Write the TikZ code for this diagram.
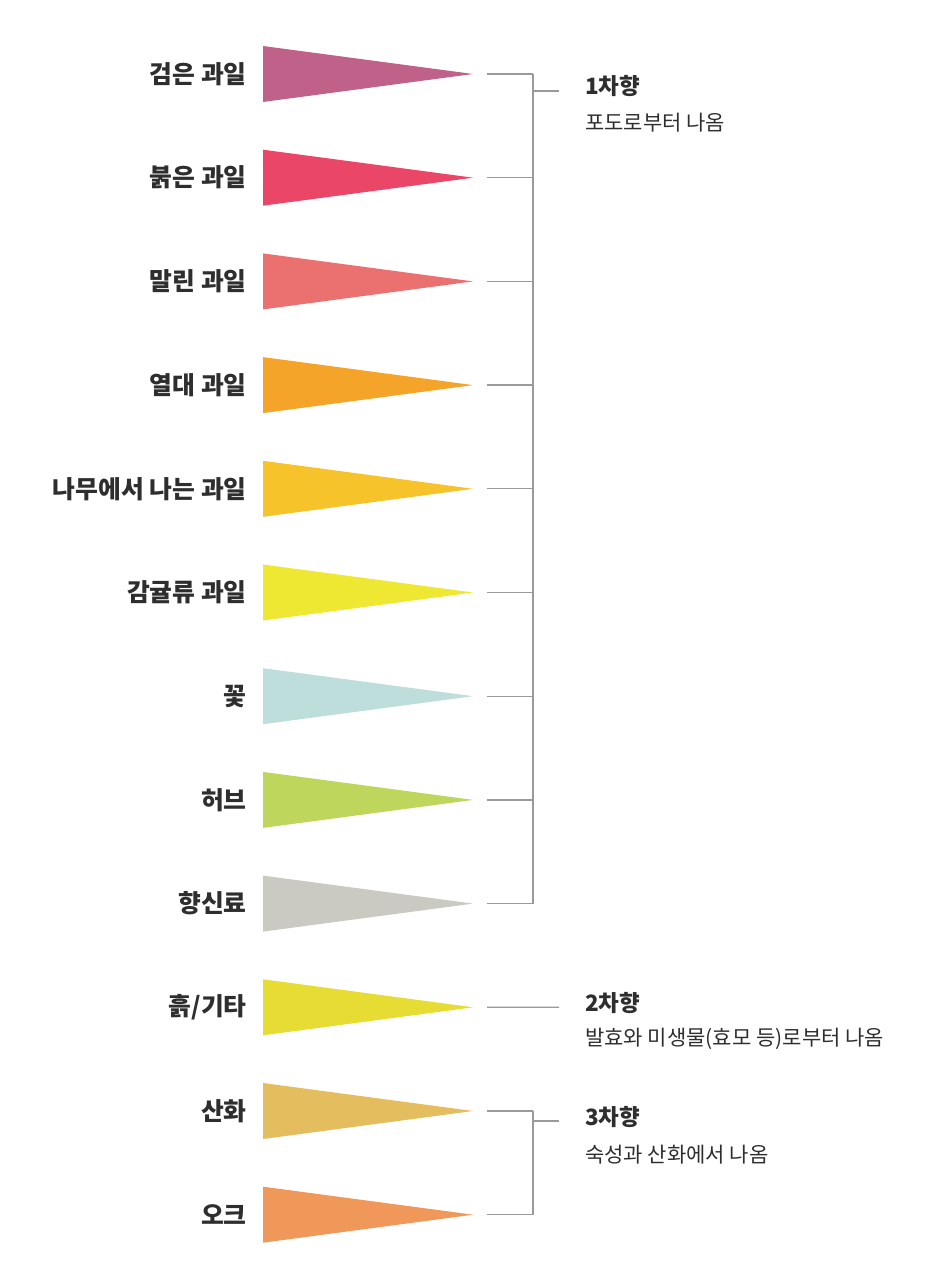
\documentclass[tikz,border=0pt]{standalone}
\usepackage{fontspec}
\newfontfamily\kr{Noto Sans CJK KR}
\definecolor{c1}{HTML}{C0618A}
\definecolor{c2}{HTML}{EA4768}
\definecolor{c3}{HTML}{EA716F}
\definecolor{c4}{HTML}{F5A42A}
\definecolor{c5}{HTML}{F6C42A}
\definecolor{c6}{HTML}{EFE832}
\definecolor{c7}{HTML}{BDDEDB}
\definecolor{c8}{HTML}{BED65C}
\definecolor{c9}{HTML}{CACAC2}
\definecolor{c10}{HTML}{E6DC34}
\definecolor{c11}{HTML}{E4BE5E}
\definecolor{c12}{HTML}{EF985A}
\definecolor{txt}{HTML}{2E2E2E}
\definecolor{ln}{HTML}{9A9A9A}
\tikzset{
  lbl/.style={anchor=east, inner sep=0pt, font=\kr\bfseries\fontsize{24.8}{28}\selectfont, text=txt},
  head/.style={anchor=west, inner sep=0pt, font=\kr\bfseries\fontsize{22.5}{26}\selectfont, text=txt},
  sub/.style={anchor=west, inner sep=0pt, font=\kr\fontsize{21}{24}\selectfont, text=txt},
  conn/.style={draw=ln, line width=1.3pt},
}
\begin{document}
\begin{tikzpicture}[x=1pt,y=-1pt]
\useasboundingbox (0,0) rectangle (938,1268);
\fill[white] (0,0) rectangle (938,1268);
\foreach \i/\lab in {1/{검은 과일},2/{붉은 과일},3/{말린 과일},4/{열대 과일},5/{나무에서 나는 과일},6/{감귤류 과일},7/{꽃},8/{허브},9/{향신료},10/{흙/기타},11/{산화},12/{오크}}{
  \pgfmathsetmacro{\yy}{74+(\i-1)*103.7}
  \fill[c\i] (263,\yy-28) -- (473,\yy) -- (263,\yy+28) -- cycle;
  \node[lbl] (l\i) at (247,\yy) {\lab};
  \coordinate (s\i) at (487,\yy);
  \coordinate (j\i) at (533,\yy);
}
% primary bracket
\foreach \i in {1,...,9}{ \draw[conn] (s\i) -- (j\i); }
\draw[conn] (j1) -- (j9);
\coordinate (b1) at (533,91);
\coordinate (e1) at (559,91);
\draw[conn] (b1) -- (e1);
\node[head] (h1) at (585,86) {1차향};
\node[sub] (d1) at (585,123) {포도로부터 나옴};
% secondary
\coordinate (e2) at (559,1007.3);
\draw[conn] (s10) -- (e2);
\node[head] (h2) at (585,1003) {2차향};
\node[sub] (d2) at (585,1039) {발효와 미생물(효모 등)로부터 나옴};
% tertiary
\draw[conn] (s11) -- (j11);
\draw[conn] (s12) -- (j12);
\draw[conn] (j11) -- (j12);
\coordinate (b3) at (533,1121);
\coordinate (e3) at (559,1121);
\draw[conn] (b3) -- (e3);
\node[head] (h3) at (585,1117) {3차향};
\node[sub] (d3) at (585,1155) {숙성과 산화에서 나옴};
\end{tikzpicture}
\end{document}
